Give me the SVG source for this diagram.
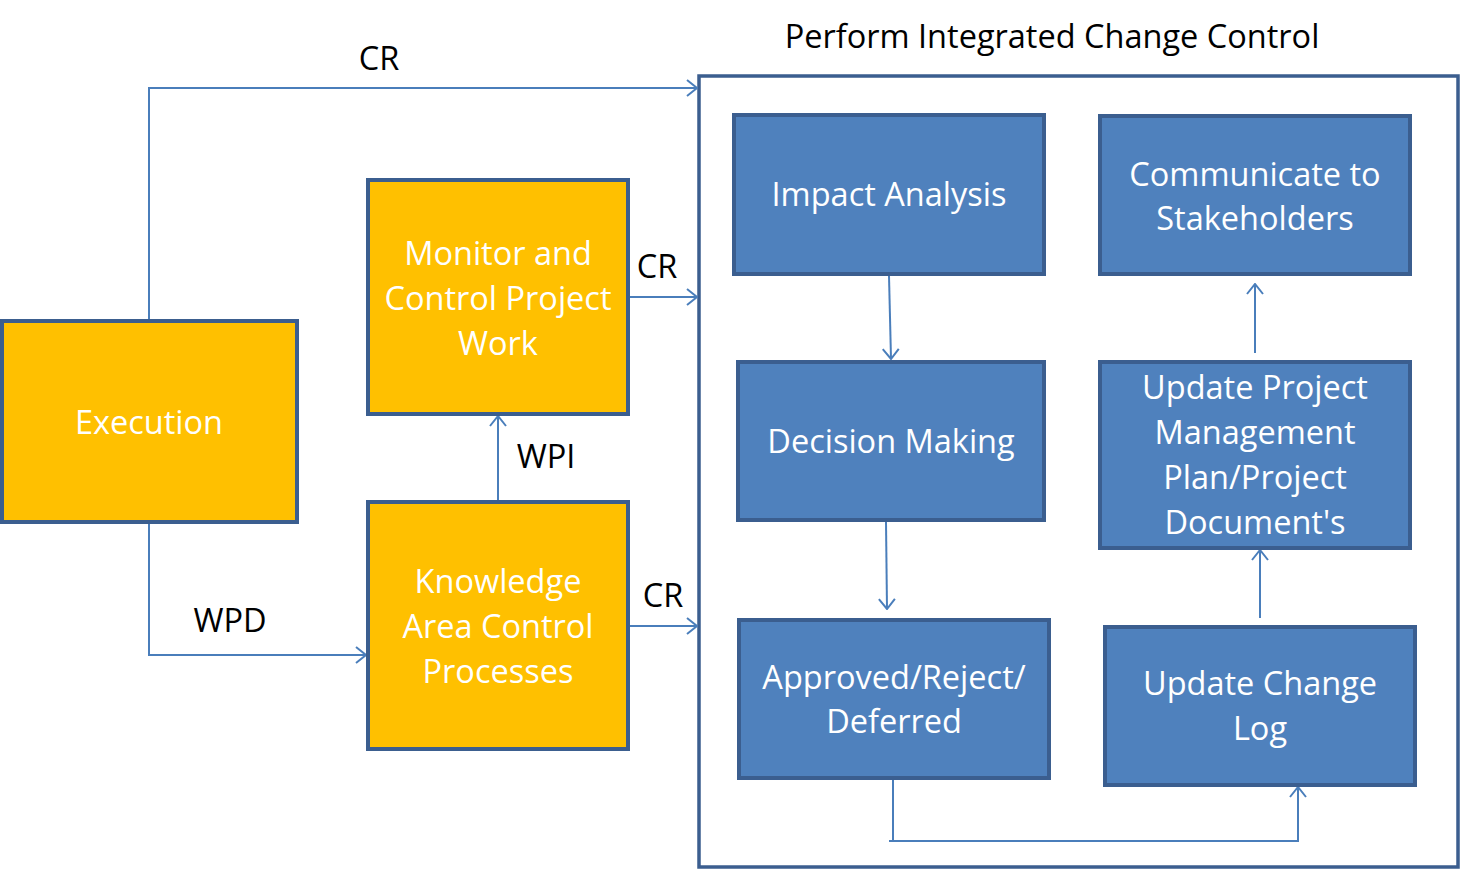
<svg xmlns="http://www.w3.org/2000/svg" width="1460" height="870" viewBox="0 0 1460 870">
<style>
text{font-family:"Open Sans","Noto Sans","Liberation Sans",sans-serif;font-size:32.5px;text-anchor:middle}
.y{fill:#FFC000;stroke:#3B5E8F;stroke-width:4}
.b{fill:#4F81BD;stroke:#3B5E8F;stroke-width:4}
.w{fill:#FFFFFF}
.k{fill:#000000}
.c{fill:none;stroke:#4A7EBB;stroke-width:2}
</style>
<defs>
<marker id="a" markerWidth="12" markerHeight="18" refX="11" refY="9" orient="auto" markerUnits="userSpaceOnUse">
<path d="M1,1 L11,9 L1,17" fill="none" stroke="#4A7EBB" stroke-width="2"/>
</marker>
</defs>
<rect width="1460" height="870" fill="#FFFFFF"/>
<g id="container">
<rect x="699" y="76" width="759" height="791" fill="#FFFFFF" stroke="#3B5E8F" stroke-width="3.5"/>
<text class="k" x="1052" y="48">Perform Integrated Change Control</text>
</g>
<g id="connectors">
<polyline class="c" points="149,321 149,88 697,88" marker-end="url(#a)"/>
<polyline class="c" points="628,297 697,297" marker-end="url(#a)"/>
<polyline class="c" points="628,626 697,626" marker-end="url(#a)"/>
<polyline class="c" points="498,502 498,416" marker-end="url(#a)"/>
<polyline class="c" points="149,522 149,655 366,655" marker-end="url(#a)"/>
<polyline class="c" points="889,276 891,359" marker-end="url(#a)"/>
<polyline class="c" points="886,522 887,609" marker-end="url(#a)"/>
<polyline class="c" points="893,780 893,841"/>
<polyline class="c" points="889,841 1298,841 1298,787" marker-end="url(#a)"/>
<polyline class="c" points="1260,618 1260,550" marker-end="url(#a)"/>
<polyline class="c" points="1255,353 1255,284" marker-end="url(#a)"/>
<text class="k" x="379" y="70">CR</text>
<text class="k" x="657" y="278">CR</text>
<text class="k" x="663" y="607">CR</text>
<text class="k" x="546" y="468">WPI</text>
<text class="k" x="230" y="632">WPD</text>
</g>
<g id="execution">
<rect class="y" x="2" y="321" width="295" height="201"/>
<text class="w" x="149" y="434">Execution</text>
</g>
<g id="monitor">
<rect class="y" x="368" y="180" width="260" height="234"/>
<text class="w" x="498" y="265">Monitor and</text>
<text class="w" x="498" y="310">Control Project</text>
<text class="w" x="498" y="355">Work</text>
</g>
<g id="knowledge">
<rect class="y" x="368" y="502" width="260" height="247"/>
<text class="w" x="498" y="593">Knowledge</text>
<text class="w" x="498" y="638">Area Control</text>
<text class="w" x="498" y="683">Processes</text>
</g>
<g id="impact">
<rect class="b" x="734" y="115" width="310" height="159"/>
<text class="w" x="889" y="206">Impact Analysis</text>
</g>
<g id="communicate">
<rect class="b" x="1100" y="116" width="310" height="158"/>
<text class="w" x="1255" y="186">Communicate to</text>
<text class="w" x="1255" y="230">Stakeholders</text>
</g>
<g id="decision">
<rect class="b" x="738" y="362" width="306" height="158"/>
<text class="w" x="891" y="453">Decision Making</text>
</g>
<g id="update-plan">
<rect class="b" x="1100" y="362" width="310" height="186"/>
<text class="w" x="1255" y="399">Update Project</text>
<text class="w" x="1255" y="444">Management</text>
<text class="w" x="1255" y="489">Plan/Project</text>
<text class="w" x="1255" y="534">Document's</text>
</g>
<g id="approved">
<rect class="b" x="739" y="620" width="310" height="158"/>
<text class="w" x="894" y="689">Approved/Reject/</text>
<text class="w" x="894" y="733">Deferred</text>
</g>
<g id="update-log">
<rect class="b" x="1105" y="627" width="310" height="158"/>
<text class="w" x="1260" y="695">Update Change</text>
<text class="w" x="1260" y="740">Log</text>
</g>
</svg>
